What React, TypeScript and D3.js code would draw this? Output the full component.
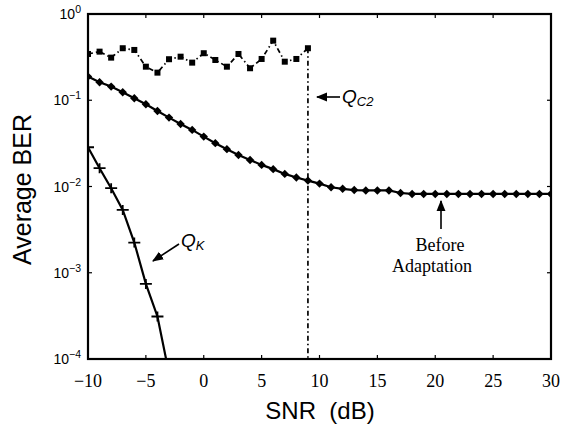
import React from 'react';
import * as d3 from 'd3';

// SNR grid (dB)
const snrQc2 = d3.range(-10, 10);
const berQc2 = [0.344, 0.366, 0.312, 0.401, 0.383, 0.245, 0.209, 0.299, 0.32, 0.273,
  0.351, 0.293, 0.245, 0.344, 0.235, 0.301, 0.491, 0.28, 0.301, 0.401];

const snrBefore = d3.range(-10, 31);
const berBefore = [0.188, 0.162, 0.144, 0.124, 0.1055, 0.0899, 0.0752, 0.0629, 0.0531, 0.0453,
  0.0379, 0.0318, 0.0271, 0.0232, 0.0203, 0.0178, 0.0159, 0.014, 0.0127, 0.0117,
  0.0108, 0.0098, 0.0094, 0.0091, 0.009, 0.009, 0.009, 0.0084, 0.0082, 0.0082,
  0.0082, 0.0082, 0.0082, 0.0082, 0.0082, 0.0082, 0.0082, 0.0082, 0.0082, 0.0082, 0.0082];

const snrQk = [-10, -9, -8, -7, -6, -5, -4, -3];
const berQk = [0.0285, 0.0163, 0.00955, 0.00535, 0.00224, 0.000743, 0.000311, 0.000068];

const xTicks = [-10, -5, 0, 5, 10, 15, 20, 25, 30];
const yExps = [0, -1, -2, -3, -4];

const W = 564, H = 432;
const L = 88, R = 551, T = 14, B = 359;
const sans = "'Liberation Sans', Arial, sans-serif";
const serif = "'Liberation Serif', 'Times New Roman', serif";

export default function App() {
  const x = d3.scaleLinear().domain([-10, 30]).range([L, R]);
  const y = d3.scaleLog().domain([1e-4, 1]).range([B, T]);

  const line = d3.line<[number, number]>().x(d => x(d[0])).y(d => y(d[1]));
  const qc2: [number, number][] = snrQc2.map((s, i) => [s, berQc2[i]]);
  const before: [number, number][] = snrBefore.map((s, i) => [s, berBefore[i]]);
  const qk: [number, number][] = snrQk.map((s, i) => [s, berQk[i]]);
  const lastQc2 = qc2[qc2.length - 1];

  return (
    <svg width={W} height={H} style={{ position: 'absolute', left: 0, top: 0, background: '#fff' }}>
      <defs>
        <clipPath id="plot"><rect x={L} y={T} width={R - L} height={B - T} /></clipPath>
        <marker id="arr" viewBox="0 0 10 10" refX="9" refY="5" markerWidth="7" markerHeight="7" orient="auto-start-reverse">
          <path d="M0,1 L10,5 L0,9 z" fill="#000" />
        </marker>
      </defs>

      {/* ticks */}
      <g stroke="#000" strokeWidth={1.2}>
        {xTicks.map(t => (
          <g key={'xt' + t}>
            <line x1={x(t)} x2={x(t)} y1={B} y2={B - 4} />
            <line x1={x(t)} x2={x(t)} y1={T} y2={T + 4} />
          </g>
        ))}
        {yExps.map(e => (
          <g key={'yt' + e}>
            <line x1={L} x2={L + 4} y1={y(Math.pow(10, e))} y2={y(Math.pow(10, e))} />
            <line x1={R} x2={R - 4} y1={y(Math.pow(10, e))} y2={y(Math.pow(10, e))} />
          </g>
        ))}
      </g>

      <g clipPath="url(#plot)">
        {/* Q_c2 */}
        <path d={line(qc2) || ''} fill="none" stroke="#000" strokeWidth={1.7} strokeDasharray="5,3,1.5,3" />
        <line x1={x(lastQc2[0])} x2={x(lastQc2[0])} y1={y(lastQc2[1])} y2={B}
          stroke="#000" strokeWidth={1.7} strokeDasharray="5,3,1.5,3" />
        {qc2.map((d, i) => (
          <rect key={'q' + i} x={x(d[0]) - 3} y={y(d[1]) - 3} width={6} height={6} fill="#000" />
        ))}

        {/* before adaptation */}
        <path d={line(before) || ''} fill="none" stroke="#000" strokeWidth={2.2} />
        {before.map((d, i) => (
          <path key={'b' + i} transform={`translate(${x(d[0])},${y(d[1])})`} d="M0,-4.2 L4.2,0 L0,4.2 L-4.2,0 Z" fill="#000" />
        ))}

        {/* Q_K */}
        <path d={line(qk) || ''} fill="none" stroke="#000" strokeWidth={2.2} />
        {qk.map((d, i) => (
          <path key={'k' + i} transform={`translate(${x(d[0])},${y(d[1])})`} d="M-6,0 L6,0 M0,-5 L0,5" stroke="#000" strokeWidth={1.8} />
        ))}
      </g>

      {/* frame */}
      <rect x={L} y={T} width={R - L} height={B - T} fill="none" stroke="#000" strokeWidth={2.2} />

      {/* tick labels */}
      <g fontFamily={serif} fontSize={18} textAnchor="middle">
        {xTicks.map(t => (
          <text key={'xl' + t} x={x(t)} y={387}>{t < 0 ? '\u2212' + Math.abs(t) : t}</text>
        ))}
      </g>
      <g fontFamily={sans} fontSize={14} textAnchor="end">
        {yExps.map(e => (
          <text key={'yl' + e} x={L - 7} y={y(Math.pow(10, e)) + 5}>
            10<tspan fontSize={10.5} dy={-6}>{e === 0 ? '0' : '\u2212' + Math.abs(e)}</tspan>
          </text>
        ))}
      </g>

      {/* axis titles */}
      <text x={320} y={419} textAnchor="middle" fontFamily={sans} fontSize={24} style={{ whiteSpace: 'pre' }}>{'SNR  (dB)'}</text>
      <text transform={`translate(31,${(T + B) / 2 + 3}) rotate(-90)`} textAnchor="middle" fontFamily={sans} fontSize={25}>Average BER</text>

      {/* annotations */}
      <line x1={340} y1={97} x2={317} y2={97} stroke="#000" strokeWidth={1.6} markerEnd="url(#arr)" />
      <text x={342} y={103} fontFamily={sans} fontStyle="italic" fontSize={19}>
        Q<tspan fontSize={13} dy={3}>C2</tspan>
      </text>

      <line x1={179} y1={244} x2={153} y2={261} stroke="#000" strokeWidth={1.6} markerEnd="url(#arr)" />
      <text x={181} y={247} fontFamily={sans} fontStyle="italic" fontSize={19}>
        Q<tspan fontSize={13} dy={3}>K</tspan>
      </text>

      <line x1={441} y1={229} x2={441} y2={201} stroke="#000" strokeWidth={1.6} markerEnd="url(#arr)" />
      <g fontFamily={serif} fontSize={18} textAnchor="middle">
        <text x={440} y={251}>Before</text>
        <text x={432} y={272}>Adaptation</text>
      </g>
    </svg>
  );
}
